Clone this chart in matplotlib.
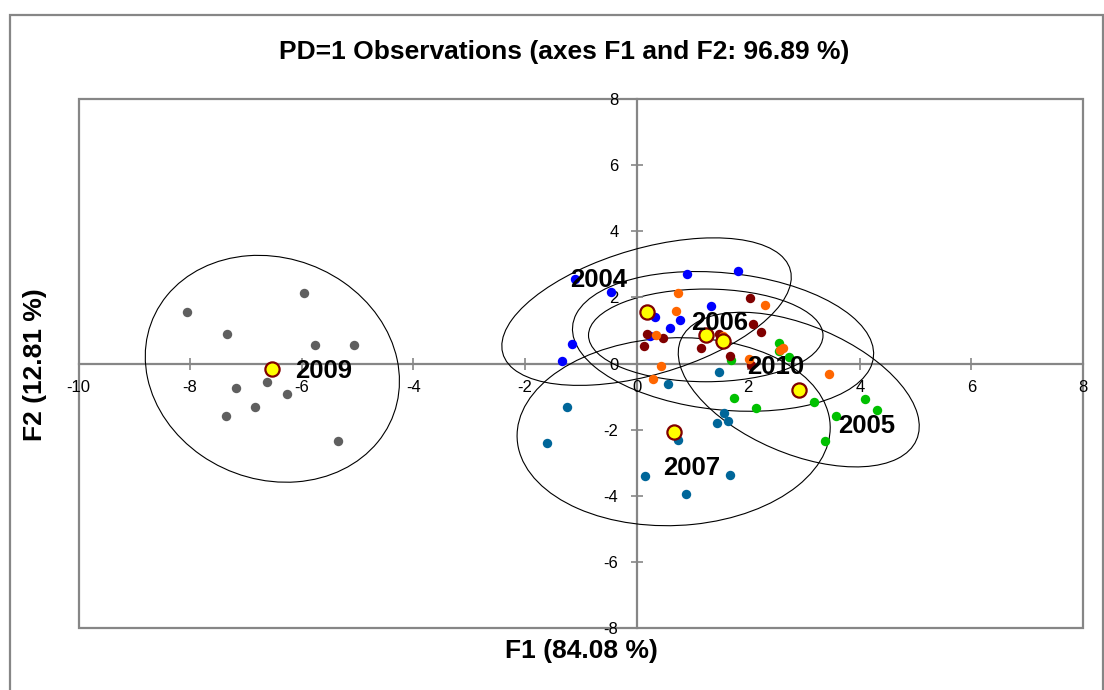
import numpy as np
import matplotlib
matplotlib.use("Agg")
import matplotlib.pyplot as plt
from matplotlib.patches import Ellipse, Rectangle

plt.rcParams["font.family"] = ["Liberation Sans", "DejaVu Sans"]
plt.rcParams["axes.unicode_minus"] = False

# Observation scores on the first two factors, one list pair per year
years = ["2004", "2005", "2006", "2007", "2009", "2010"]
colors = ["#0000FF", "#00C000", "#800000", "#006699", "#5F5F5F", "#FF6600"]

f1_2004 = [-1.11, -0.45, -1.15, -1.33, 0.90, 0.33, 0.78, 0.60, 0.24, 1.82, 1.34]
f2_2004 = [2.57, 2.17, 0.58, 0.07, 2.71, 1.42, 1.33, 1.06, 0.82, 2.79, 1.74]

f1_2005 = [1.70, 2.56, 2.55, 2.73, 3.18, 4.09, 4.31, 3.58, 3.38, 1.75, 2.14]
f2_2005 = [0.10, 0.62, 0.37, 0.20, -1.16, -1.08, -1.40, -1.59, -2.34, -1.04, -1.36]

f1_2006 = [0.18, 0.47, 0.13, 1.48, 1.16, 1.67, 2.04, 2.08, 2.23, 0.15, 2.05]
f2_2006 = [0.88, 0.77, 0.53, 0.88, 0.47, 0.22, 1.97, 1.20, 0.95, 1.52, -0.04]

f1_2007 = [0.56, 1.47, 1.57, 1.45, 1.64, 0.75, 0.15, 1.67, 0.89, -1.24, -1.60]
f2_2007 = [-0.62, -0.27, -1.51, -1.81, -1.75, -2.31, -3.39, -3.36, -3.95, -1.32, -2.40]

f1_2009 = [-8.05, -7.34, -5.96, -5.77, -5.07, -7.17, -6.62, -6.27, -6.83, -7.36, -5.35]
f2_2009 = [1.57, 0.90, 2.12, 0.57, 0.57, -0.73, -0.57, -0.93, -1.33, -1.58, -2.35]

f1_2010 = [0.74, 0.71, 0.35, 0.44, 0.30, 1.55, 2.31, 2.02, 2.57, 3.44, 2.62]
f2_2010 = [2.13, 1.58, 0.87, -0.08, -0.46, 0.83, 1.78, 0.13, 0.41, -0.31, 0.47]

f1 = [f1_2004, f1_2005, f1_2006, f1_2007, f1_2009, f1_2010]
f2 = [f2_2004, f2_2005, f2_2006, f2_2007, f2_2009, f2_2010]

title = "PD=1 Observations (axes F1 and F2: 96.89 %)"
xlabel = "F1 (84.08 %)"
ylabel = "F2 (12.81 %)"
xticks = list(range(-10, 9, 2))
yticks = list(range(-8, 9, 2))

# 95 % confidence ellipse scale for two degrees of freedom
K95 = np.sqrt(-2.0 * np.log(0.05))

W, H = 1104, 690
fig = plt.figure(figsize=(W / 100, H / 100), dpi=100)
ax = fig.add_axes([78.5 / W, (H - 628) / H, (1083 - 78.5) / W, (628 - 99) / H])
ax.set_xlim(-10, 8)
ax.set_ylim(-8, 8)

grey = "#868686"
for side in ("top", "right"):
    ax.spines[side].set_visible(False)
ax.spines["left"].set_position(("data", 0))
ax.spines["bottom"].set_position(("data", 0))
for side in ("left", "bottom"):
    ax.spines[side].set_color(grey)
    ax.spines[side].set_linewidth(1.6)
    ax.spines[side].set_zorder(0.5)
ax.add_patch(Rectangle((0, 0), 1, 1, transform=ax.transAxes, fill=False,
                       edgecolor=grey, lw=1.6, clip_on=False, zorder=0.5))

ax.set_xticks(xticks)
ax.set_yticks(yticks)
ax.set_xticklabels([str(v) for v in xticks])
ax.set_yticklabels([str(v) for v in yticks])
ax.tick_params(direction="inout", length=9, width=1.2, color=grey,
               labelsize=12, labelcolor="black")
ax.tick_params(axis="x", pad=7.5)
ax.tick_params(axis="y", pad=8.5)

# Confidence ellipses
for xs, ys in zip(f1, f2):
    x = np.asarray(xs)
    y = np.asarray(ys)
    cov = np.cov(x, y)
    vals, vecs = np.linalg.eigh(cov)
    order = vals.argsort()[::-1]
    vals, vecs = vals[order], vecs[:, order]
    angle = np.degrees(np.arctan2(vecs[1, 0], vecs[0, 0]))
    ax.add_patch(Ellipse((x.mean(), y.mean()), 2 * K95 * np.sqrt(vals[0]),
                         2 * K95 * np.sqrt(vals[1]), angle=angle, fill=False,
                         edgecolor="black", lw=0.8, zorder=1))

# Observations
for xs, ys, c in zip(f1, f2, colors):
    ax.scatter(xs, ys, s=46, color=c, linewidths=0, zorder=2)

# Group centroids
for xs, ys in zip(f1, f2):
    ax.scatter([np.mean(xs)], [np.mean(ys)], s=105, color="#FFFF00",
               edgecolors="#800000", linewidths=1.6, zorder=3)

# Year labels
label_pos = {"2004": (-0.68, 2.53), "2005": (4.12, -1.88), "2006": (1.48, 1.24),
             "2007": (0.98, -3.15), "2009": (-5.60, -0.23), "2010": (2.49, -0.11)}
for yr in years:
    px, py = label_pos[yr]
    ax.text(px, py, yr, fontsize=18.5, fontweight="bold", ha="center",
            va="center", zorder=4)

fig.text(564 / W, 1 - 52 / H, title, fontsize=19, fontweight="bold",
         ha="center", va="center")
fig.text(581 / W, 1 - 651 / H, xlabel, fontsize=19, fontweight="bold",
         ha="center", va="center")
fig.text(35 / W, 1 - 365 / H, ylabel, fontsize=19, fontweight="bold",
         ha="center", va="center", rotation=90)

# Chart border
fig.add_artist(Rectangle((10 / W, -0.01), (1103 - 10) / W, 1.01 - 15 / H,
                         transform=fig.transFigure, fill=False,
                         edgecolor=grey, lw=1.6))

fig.savefig("out.png", dpi=100)
